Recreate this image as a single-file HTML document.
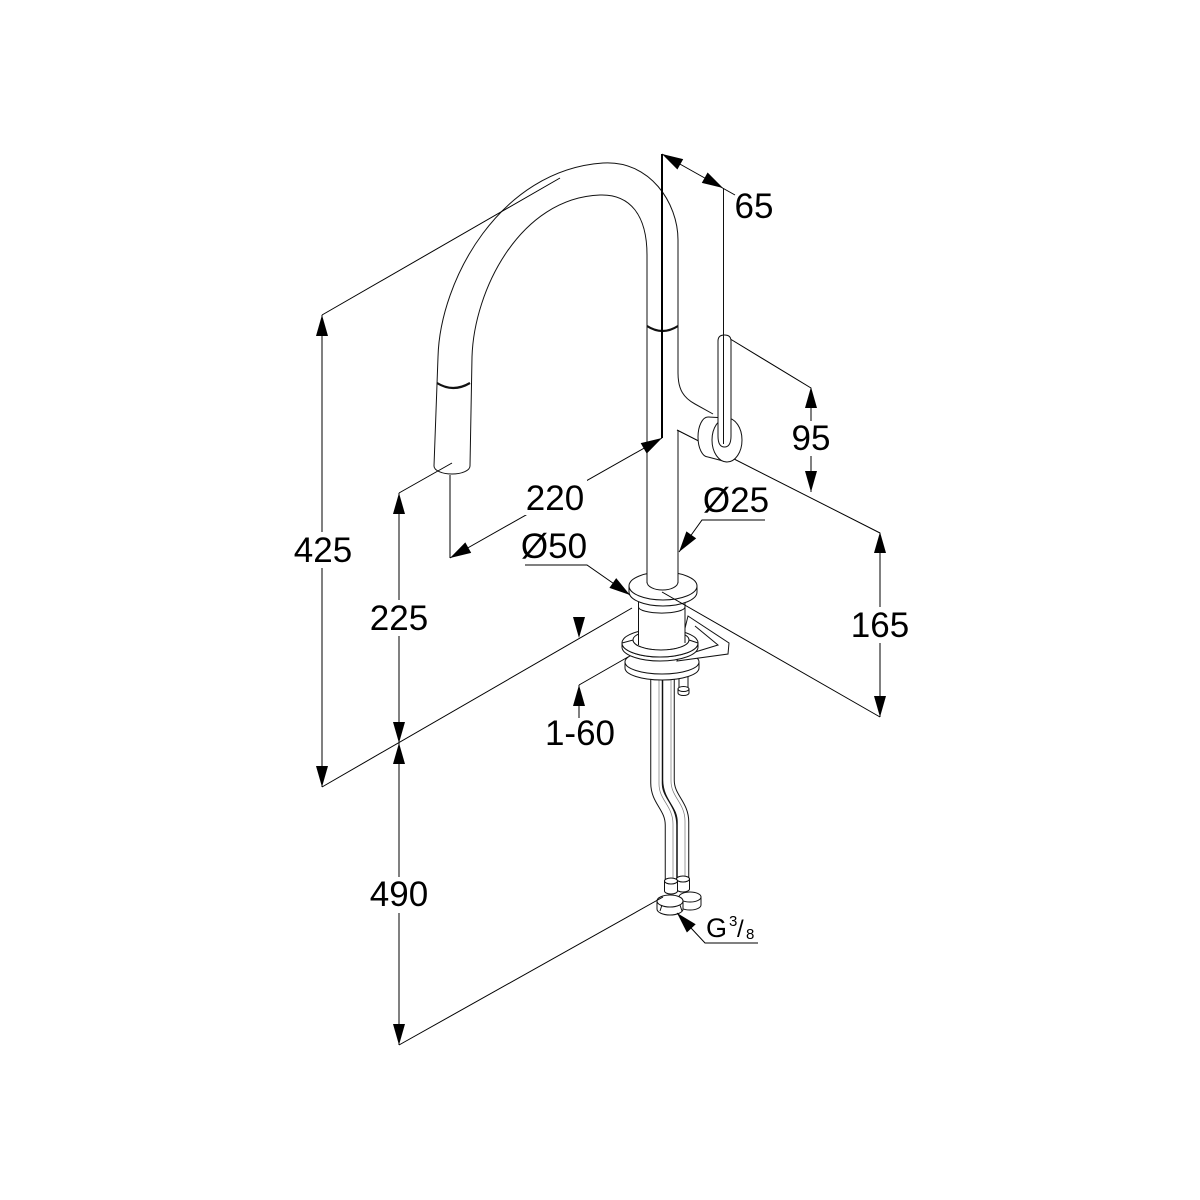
<!DOCTYPE html>
<html><head><meta charset="utf-8"><style>
html,body{margin:0;padding:0;background:#fff;}
svg{display:block;}
text{font-family:"Liberation Sans",Arial,sans-serif;font-size:35px;fill:#000;}
</style></head><body>
<svg width="1200" height="1200" viewBox="0 0 1200 1200" xmlns="http://www.w3.org/2000/svg">
<rect width="1200" height="1200" fill="#fff"/>

<!-- ===== Product (below deck first) ===== -->
<g stroke="#111" stroke-width="1" fill="#fff">
  <!-- nuts at bottom -->
  <path d="M679,897 L679,905 A11,5 0 0,0 701,905 L701,897 Z"/>
  <ellipse cx="690" cy="897" rx="11" ry="5"/>
  <path d="M657,901 L657,909 A13,6 0 0,0 683,909 L683,901 Z"/>
  <ellipse cx="670" cy="901" rx="13" ry="6"/>
  <path d="M662,905 L660,911 M680,905 L682,911" fill="none"/>
</g>

<!-- pipes -->
<g fill="none" stroke-linecap="butt">
  <path d="M668.5,676 L668.5,780 C668.5,798 683,804 683,822 L683,886" stroke="#111" stroke-width="12.5"/>
  <path d="M668.5,676 L668.5,780 C668.5,798 683,804 683,822 L683,886" stroke="#fff" stroke-width="10.5"/>
  <path d="M656.5,676 L656.5,783 C656.5,801 671,807 671,825 L671,888" stroke="#111" stroke-width="12.5"/>
  <path d="M656.5,676 L656.5,783 C656.5,801 671,807 671,825 L671,888" stroke="#fff" stroke-width="10.5"/>
  <path d="M659,680 L659,784 C659,800 673,806 673,824 L673,884" stroke="#777" stroke-width="0.7"/>
  <path d="M671,680 L671,781 C671,797 685,803 685,821 L685,882" stroke="#777" stroke-width="0.7"/>
</g>

<g stroke="#111" stroke-width="1" fill="#fff">
  <!-- collars -->
  <path d="M676.5,879 L676.5,889 A6.5,3 0 0,0 689.5,889 L689.5,879 Z"/>
  <ellipse cx="683" cy="879" rx="6.5" ry="3"/>
  <path d="M664.5,881 L664.5,891 A6.5,3 0 0,0 677.5,891 L677.5,881 Z"/>
  <ellipse cx="671" cy="881" rx="6.5" ry="3"/>

  <!-- bolt -->
  <rect x="679" y="668" width="9" height="22"/>
  <path d="M678,689 L678,693 A5.5,2.5 0 0,0 689,693 L689,689 Z"/>
  <ellipse cx="683.5" cy="689" rx="5.5" ry="2.5"/>

  <!-- lower nut -->
  <path d="M625,662 L625,668 A37,12 0 0,0 699,668 L699,662 Z"/>
  <ellipse cx="662" cy="662" rx="37" ry="12"/>

  <!-- bracket -->
  <path d="M688,616 L729,643 L728,654 L677,661 Z"/>
  <path d="M695,626 L718,645 L682,656" fill="none"/>

  <!-- clamp ring -->
  <path d="M622,643 L622,647 A38,14 0 0,0 698,647 L698,643 Z"/>
  <ellipse cx="660" cy="643" rx="38" ry="14"/>
  <ellipse cx="661" cy="640" rx="28" ry="10"/>

  <!-- column -->
  <rect x="638.5" y="600" width="46.5" height="43" stroke="none"/>
  <line x1="638.5" y1="600" x2="638.5" y2="645"/>
  <line x1="685" y1="600" x2="685" y2="643"/>
  <path d="M638.5,607 A23,6 0 0,0 685,607" fill="none"/>
  <!-- ring front band over column -->
  <path d="M622,643 A38,14 0 0,0 698,643 L689,640 A28,10 0 0,1 633,640 Z"/>

  <!-- escutcheon -->
  <path d="M629,586 L629,592 A34,14 0 0,0 697,592 L697,586 Z"/>
  <ellipse cx="663" cy="586" rx="34" ry="14"/>

  <!-- tube base -->
  <rect x="647.5" y="560" width="30.5" height="24" stroke="none"/>
  <path d="M647,582 A15.5,8 0 0,0 678,582" fill="none"/>
</g>

<!-- spout & body -->
<g fill="none" stroke="#111" stroke-width="1">
  <path d="M434,466 L438,357 C440,280 500,170 603,163 C650,160 678,203 678,240 L678,373 C678,390 684,398 695,404 L713,414"/>
  <path d="M470,466 L472,357 C474,290 520,198 600,195 C630,194 647,215 647,255 L647,583"/>
  <path d="M434,466 A18,8 0 0,0 470,466"/>
  <line x1="678" y1="430" x2="678" y2="583"/>
  <path d="M437,383 Q453,393 470,383" stroke-width="2.2"/>
  <path d="M647,326 Q662.5,336 678,326" stroke-width="2.2"/>
</g>

<!-- ===== Dimension lines ===== -->
<g fill="none" stroke="#000" stroke-width="1">
  <line x1="662" y1="154" x2="662" y2="438" stroke-width="2"/>
  <line x1="322" y1="315" x2="322" y2="787"/>
  <line x1="322" y1="315" x2="560" y2="178"/>
  <line x1="322" y1="787" x2="632" y2="608"/>
  <line x1="399" y1="493" x2="399" y2="1045"/>
  <line x1="399" y1="493" x2="452" y2="463"/>
  <line x1="399" y1="1045" x2="663" y2="897"/>
  <line x1="450" y1="475" x2="450" y2="558"/>
  <line x1="450" y1="558" x2="662" y2="438"/>
  <line x1="662" y1="154" x2="735" y2="195"/>
  <line x1="727" y1="337" x2="811" y2="388"/>
  <line x1="811" y1="388" x2="811" y2="492"/>
  <line x1="677" y1="430" x2="880" y2="533"/>
  <line x1="880" y1="533" x2="880" y2="717"/>
  <line x1="662" y1="592" x2="880" y2="717"/>
  <line x1="579" y1="685" x2="579" y2="718"/>
  <line x1="579" y1="685" x2="628" y2="657"/>
  <polyline points="525,565 587,565 630,595"/>
  <polyline points="765,520 702,520 679,552"/>
  <polyline points="677,913 705,943 758,943"/>
</g>

<!-- lever (covers extension line) -->
<g stroke="#111" stroke-width="1" fill="#fff">
  <ellipse cx="708" cy="437" rx="10" ry="20"/>
  <polygon points="708,417 727,418 727,462 708,457" stroke="none"/>
  <line x1="708" y1="417" x2="727" y2="418"/>
  <line x1="708" y1="457" x2="727" y2="462"/>
  <ellipse cx="727" cy="440" rx="15" ry="22"/>
  <path d="M718,341 L718,436 Q718,447 724.5,447 Q731,447 731,436 L731,341 Q731,335 724.5,335 Q718,335 718,341 Z"/>
  <line x1="723.5" y1="188" x2="723.5" y2="444" fill="none"/>
</g>

<!-- ===== Arrowheads ===== -->
<g fill="#000" stroke="none">
  <polygon points="322,315 316,336 328,336"/>
  <polygon points="322,787 316,766 328,766"/>
  <polygon points="399,493 393,514 405,514"/>
  <polygon points="399,743 393,722 405,722"/>
  <polygon points="399,743 393,764 405,764"/>
  <polygon points="399,1045 393,1024 405,1024"/>
  <polygon points="811,387 805,408 817,408"/>
  <polygon points="811,492 805,471 817,471"/>
  <polygon points="880,532 874,553 886,553"/>
  <polygon points="880,717 874,696 886,696"/>
  <polygon points="579,638 573,617 585,617"/>
  <polygon points="579,685 573,706 585,706"/>
  <polygon points="450,558 471.2,552.9 465.3,542.4"/>
  <polygon points="662,438 646.7,453.6 640.7,443.1"/>
  <polygon points="662,154 683.2,159.1 677.4,169.5"/>
  <polygon points="723,188 707.6,172.5 701.8,182.9"/>
  <polygon points="630,595 609.4,587.9 616.2,578.1"/>
  <polygon points="679,552 696.2,538.4 686.4,531.4"/>
  <polygon points="677,913 695.7,924.3 686.9,932.5"/>
</g>

<!-- ===== Text backgrounds ===== -->
<g fill="#fff" stroke="none">
  <rect x="299" y="532" width="48" height="36"/>
  <rect x="375" y="600" width="48" height="36"/>
  <rect x="375" y="877" width="48" height="36"/>
  <rect x="794" y="421" width="34" height="35"/>
  <rect x="855" y="607" width="50" height="36"/>
  <rect x="524" y="480" width="63" height="35"/>
</g>

<!-- ===== Labels ===== -->
<text x="754" y="218" text-anchor="middle">65</text>
<text x="811" y="450" text-anchor="middle">95</text>
<text x="880" y="637" text-anchor="middle">165</text>
<text x="323" y="562" text-anchor="middle">425</text>
<text x="399" y="630" text-anchor="middle">225</text>
<text x="399" y="906" text-anchor="middle">490</text>
<text x="555" y="510" text-anchor="middle">220</text>
<text x="554" y="558" text-anchor="middle">Ø50</text>
<text x="736" y="512" text-anchor="middle">Ø25</text>
<text x="580" y="745" text-anchor="middle">1-60</text>
<text x="706" y="937" style="font-size:27px">G</text>
<text x="729" y="926" style="font-size:15px">3</text>
<text x="737" y="937" style="font-size:24px">/</text>
<text x="746" y="939" style="font-size:15px">8</text>
</svg>
</body></html>
